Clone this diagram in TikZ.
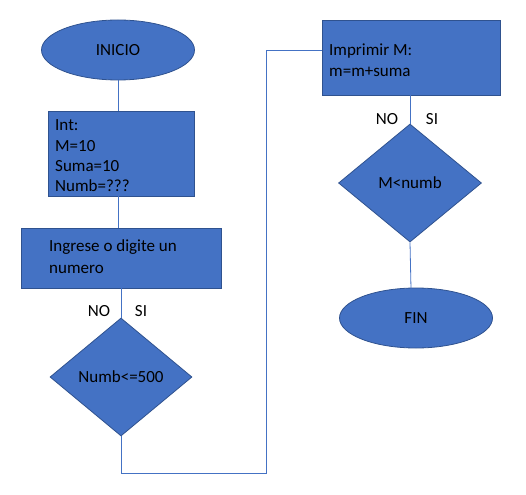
\documentclass[tikz,border=0pt]{standalone}
\usepackage{fontspec}
\setmainfont{Carlito}
\usetikzlibrary{shapes.geometric}
\definecolor{fillblue}{HTML}{4472C4}
\definecolor{edgeblue}{HTML}{2F528F}
\begin{document}
\begin{tikzpicture}[x=1pt,y=-1pt,
  every node/.style={font=\fontsize{17}{21}\selectfont},
  shapebase/.style={fill=fillblue,draw=edgeblue,line width=0.8pt,inner sep=0pt},
  term/.style={shapebase,ellipse,minimum width=153pt,minimum height=60pt},
  proc/.style={shapebase,rectangle,anchor=north west},
  decis/.style={shapebase,diamond,minimum width=142pt,minimum height=118pt},
  txt/.style={anchor=west,inner sep=0pt,text=black},
  conn/.style={draw=fillblue,line width=0.8pt},
  lbl/.style={inner sep=0pt,text=black}]
\useasboundingbox (0,0) rectangle (526,494);
% INICIO
\node[term] (inicio) at (118,50) {INICIO};
% Int box
\node[proc,minimum width=146pt,minimum height=85pt] (int) at (48,111) {};
\node[txt] (t1) at (55,125) {Int:};
\node[txt] (t2) at (55,146) {M=10};
\node[txt] (t3) at (55,166) {Suma=10};
\node[txt] (t4) at (55,186) {Numb=???};
% Ingrese box
\node[proc,minimum width=200pt,minimum height=60pt] (ing) at (21,228) {};
\node[txt] (t5) at (49,247) {Ingrese o digite un};
\node[txt] (t6) at (49,269) {numero};
% Diamond 1
\node[decis] (d1) at (121,377) {Numb<=500};
\node[lbl] (no1) at (99,311) {NO};
\node[lbl] (si1) at (141,311) {SI};
% Imprimir box
\node[proc,minimum width=178pt,minimum height=75pt] (imp) at (322,20) {};
\node[txt] (t7) at (329,51) {Imprimir M:};
\node[txt] (t8) at (329,72) {m=m+suma};
% Diamond 2
\node[decis,minimum width=143pt] (d2) at (410,183) {M<numb};
\node[lbl] (no2) at (387,119) {NO};
\node[lbl] (si2) at (432,119) {SI};
% FIN
\node[term] (fin) at (416,318) {FIN};
% connectors
\coordinate (c1) at (121,473);
\coordinate (c2) at (266,473);
\coordinate (c3) at (266,50);
\draw[conn] (inicio.south) -- (inicio.south |- int.north);
\draw[conn] (118,196) -- (118,228);
\draw[conn] (121,288) -- (d1.north);
\draw[conn] (d1.south) -- (c1) -- (c2) -- (c3) -- (imp.west |- c3);
\draw[conn] (410,95) -- (d2.north);
\draw[conn] (d2.south) -- (411,289);
\end{tikzpicture}
\end{document}
